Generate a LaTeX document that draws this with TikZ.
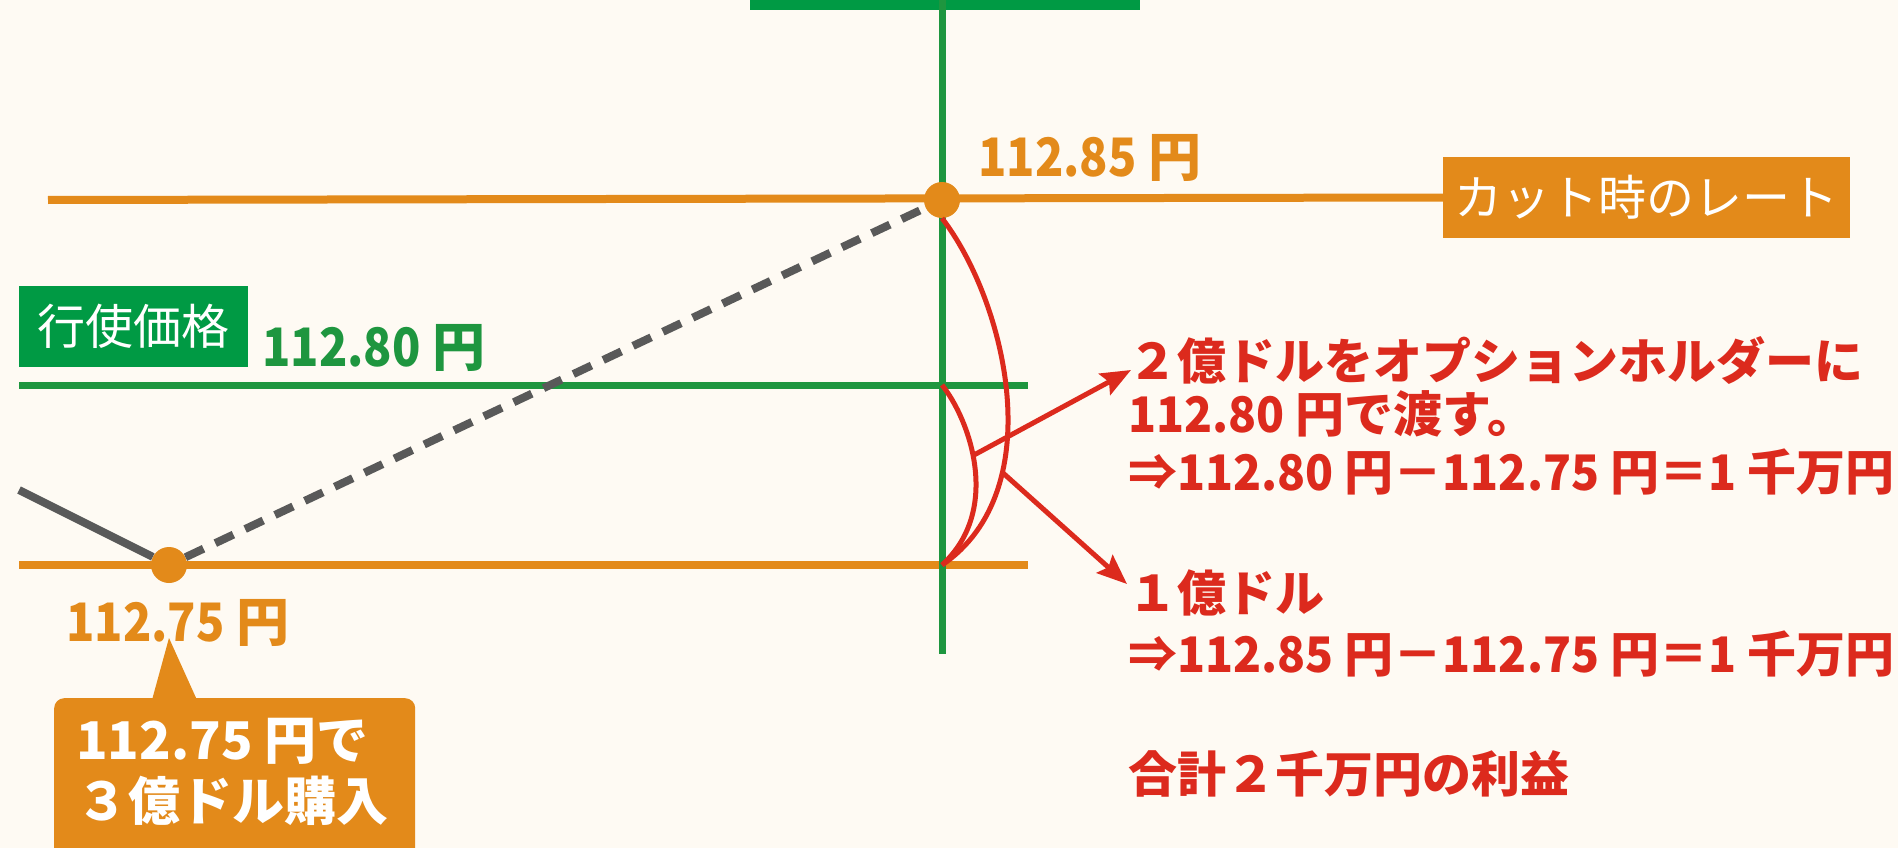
\documentclass[tikz,border=0pt]{standalone}
\usepackage{fontspec}
\setmainfont{Noto Sans CJK JP}
\newfontfamily\narrowfont{Noto Sans CJK JP}[FakeStretch=0.88]
\newfontfamily\notenumfont{Noto Sans CJK JP}[FakeStretch=0.94]
\usepackage{xcolor}
\usepackage{tikz}
\usetikzlibrary{
  arrows.meta,
  calc,
  positioning
}
\definecolor{bgcream}{HTML}{FEFAF3}
\definecolor{rateorange}{HTML}{E38A1A}
\definecolor{boxgreen}{HTML}{009A44}
\definecolor{linegreen}{HTML}{1E963F}
\definecolor{gainred}{HTML}{DC2A1D}
\definecolor{pathgrey}{HTML}{595959}
\newcommand{\pricefont}{\fontsize{53}{60}\selectfont\bfseries}
\newcommand{\notefont}{\fontsize{49}{56}\selectfont\bfseries}
\newcommand{\tagfont}{\fontsize{48}{54}\selectfont}
\newcommand{\num}[1]{{\narrowfont #1}}
\newcommand{\nnum}[1]{{\notenumfont #1}}
\tikzset{
  rate/.style={draw=rateorange, line width=8pt},
  strike/.style={draw=linegreen, line width=7pt},
  gain/.style={draw=gainred, line width=5pt},
  gainarrow/.style={gain, -{Stealth[length=30pt,width=24pt,inset=5pt]}},
  pricepath/.style={draw=pathgrey, line width=8pt},
  dot/.style={circle, fill=rateorange, minimum size=36pt, inner sep=0pt},
  tagbox/.style={fill=#1, text=white, font=\tagfont, minimum height=81pt, inner sep=0pt},
  price/.style={text=#1, font=\pricefont, anchor=base west, inner sep=0pt},
  note/.style={text=gainred, font=\notefont, anchor=base west, inner sep=0pt}
  }
\begin{document}
\begin{tikzpicture}[x=1pt,y=-1pt]
      \fill[bgcream] (0,0) rectangle (1898,848);
      \useasboundingbox (0,0) rectangle (1898,848);
      \clip (0,0) rectangle (1898,848);
      \fill[boxgreen] (750,-5) rectangle (1140,10);
      % ends of the lines
      \coordinate (vtop) at (942,0);
      \coordinate (vbot) at (942,654);
      \coordinate (cutL) at (48,200);
      \coordinate (strikeL) at (19,385);
      \coordinate (strikeR) at (1028,385);
      \coordinate (buyL) at (19,565);
      \coordinate (buyR) at (1028,565);
      \coordinate (prev) at (19,490);
      \coordinate (tipgive) at (1131,370);
      \coordinate (tipkeep) at (1127,584);
      \coordinate (ptip) at (169,638);
      % tags
      \node[tagbox=rateorange, minimum width=407pt] (cuttag) at (1646.5,197.5) {カット時のレート};
      \node[tagbox=boxgreen, minimum width=229pt] (striketag) at (133.5,326.5) {行使価格};
      % rates
      \draw[rate] (cutL) -- (cuttag.west);
      \draw[strike] (strikeL) -- (strikeR);
      \draw[rate] (buyL) -- (buyR);
      \draw[strike] (vtop) -- (vbot);
      \node[dot] (cut) at (942,200) {};
      \node[dot] (buy) at (169,565) {};
      \draw[pricepath] (prev) -- (buy);
      \draw[pricepath, dash pattern=on 20pt off 13pt] (buy) -- (cut);
      % prices
      \node[price=rateorange] (cutprice) at (978,176) {\num{112.85} 円};
      \node[price=linegreen] (strikeprice) at (262,366) {\num{112.80} 円};
      \node[price=rateorange] (buyprice) at (66,641) {\num{112.75} 円};
      % callout
      \node[fill=rateorange, rounded corners=10pt, minimum width=361pt, minimum height=200pt,
        anchor=north west, inner sep=0pt] (buybox) at (54,698) {};
      \fill[rateorange] (ptip) -- (152,700) -- (197,700) -- cycle;
      \node[price=white, font=\fontsize{52}{60}\selectfont\bfseries] (buytxt1) at (76,759) {112.75 円で};
      \node[price=white, font=\fontsize{52}{60}\selectfont\bfseries] (buytxt2) at (76,820) {３億ドル購入};
      % gains
      \draw[gain] (cut.south) .. controls (1005,300) and (1052,490) .. coordinate[pos=0.7] (outerpt) (942,565);
      \draw[gain] (942,385) .. controls (970,420) and (1002,510) .. coordinate[pos=0.44] (innerpt) (942,565);
      \draw[gainarrow] (innerpt) -- (tipgive);
      \draw[gainarrow] (outerpt) -- (tipkeep);
      \node[note] (give1) at (1128,379) {２億ドルをオプションホルダーに};
      \node[note] (give2) at (1128,432) {\nnum{112.80} 円で渡す。};
      \node[note] (give3) at (1128,490) {⇒\nnum{112.80} 円－\nnum{112.75} 円＝\nnum{1} 千万円};
      \node[note] (keep1) at (1128,611) {１億ドル};
      \node[note] (keep2) at (1128,672) {⇒\nnum{112.85} 円－\nnum{112.75} 円＝\nnum{1} 千万円};
      \node[note] (total) at (1128,792) {合計２千万円の利益};
    \end{tikzpicture}
\end{document}
